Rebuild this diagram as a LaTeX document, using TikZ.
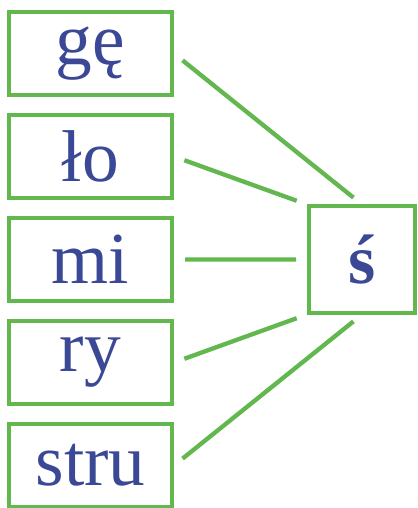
\documentclass[tikz,border=0pt]{standalone}
\usepackage{fontspec}
\setmainfont{Liberation Serif}
\usetikzlibrary{positioning}
\definecolor{ramka}{RGB}{98,184,78}
\definecolor{litera}{RGB}{58,72,150}

\begin{document}
\begin{tikzpicture}[x=0.6pt,y=-0.6pt,
    sylaba/.style={draw=ramka,line width=2.4pt,fill=white,text=litera,
      minimum width=97.8pt,minimum height=49.8pt,inner sep=0pt,
      font=\fontsize{44}{44}\selectfont},
    gloska/.style={sylaba,minimum width=63.6pt,minimum height=63.6pt,
      font=\fontsize{42}{42}\selectfont\bfseries},
    linia/.style={draw=ramka,line width=2.6pt,shorten <=6.6pt,shorten >=6.6pt}]
\useasboundingbox (0,0) rectangle (417,508);
\node[sylaba] (ge) at (90.5,53.5) {gę};
\node[sylaba,below=9.6pt of ge] (lo) {ło};
\node[sylaba,below=9.6pt of lo] (mi) {mi};
\node[sylaba,below=9.6pt of mi] (ry) {ry};
\node[sylaba,below=9.6pt of ry] (stru) {stru};
\node[gloska] (s) at (362,259.5) {ś};
\draw[linia] (ge.east) -- (s.north);
\draw[linia] (lo.east) -- (s.north west);
\draw[linia] (mi.east) -- (s.west);
\draw[linia] (ry.east) -- (s.south west);
\draw[linia] (stru.east) -- (s.south);
\end{tikzpicture}
\end{document}
